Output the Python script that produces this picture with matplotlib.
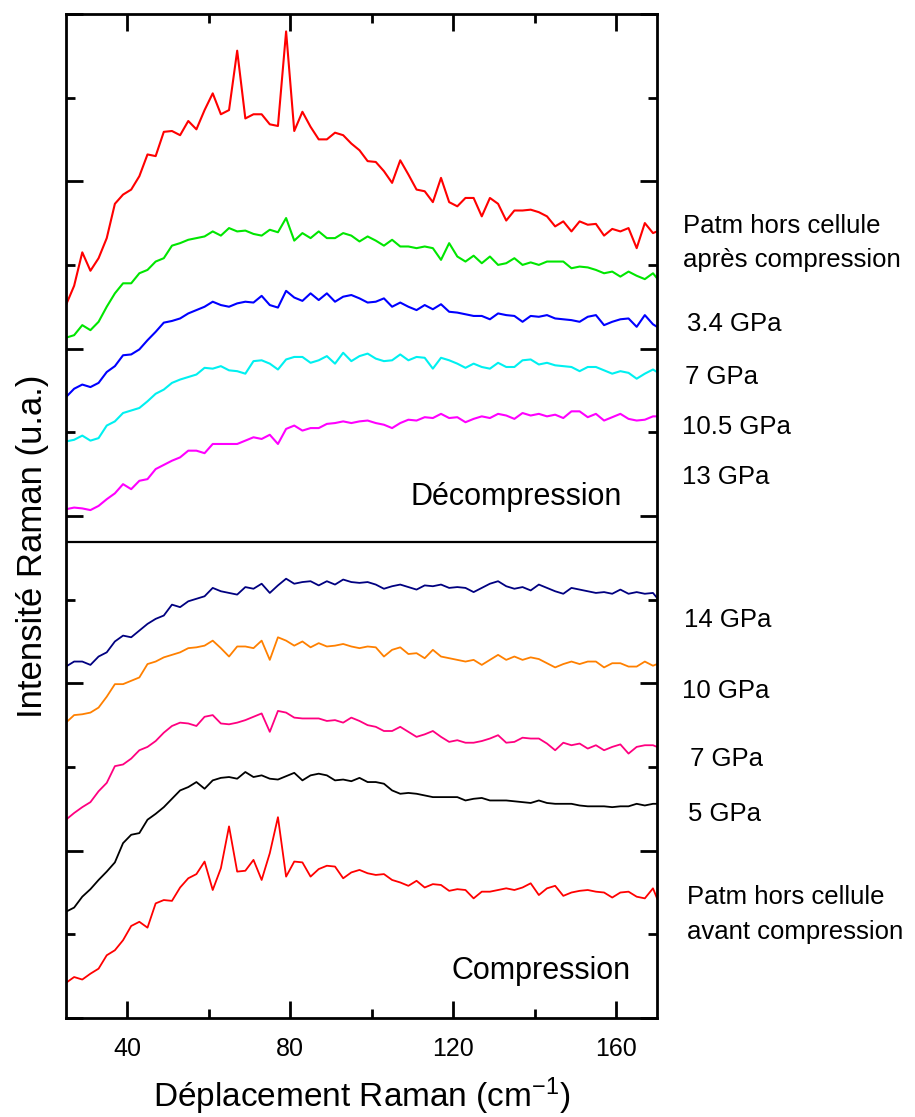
import matplotlib
matplotlib.use("Agg")
import matplotlib.pyplot as plt
from matplotlib.ticker import MultipleLocator, NullFormatter

plt.rcParams['font.family'] = ['Liberation Sans', 'DejaVu Sans']
plt.rcParams['mathtext.fontset'] = 'custom'
plt.rcParams['mathtext.rm'] = 'Liberation Sans'
plt.rcParams['mathtext.it'] = 'Liberation Sans'

##############################
# Data (intensities with offsets, arbitrary units)

shift = list(range(25, 170, 2)) + [170]   # Raman shift, cm-1

patm_apres = [85.2, 87.5, 91.5, 89.3, 90.8, 93.2, 97.3, 98.4, 99.0, 100.6,
              103.2, 103.0, 105.9, 106.0, 105.5, 107.2, 106.2, 108.5, 110.5, 108.0,
              108.5, 115.6, 107.5, 108.0, 108.0, 106.8, 106.6, 117.9, 106.0, 108.3,
              106.5, 105.0, 105.0, 105.8, 105.5, 104.5, 103.7, 102.4, 102.3, 101.2,
              99.8, 102.5, 100.8, 99.0, 98.8, 97.5, 100.4, 97.5, 97.0, 98.0,
              98.0, 95.8, 98.0, 97.3, 95.3, 96.5, 96.5, 96.6, 96.3, 95.8,
              94.6, 95.2, 94.0, 95.2, 94.8, 94.9, 93.5, 94.3, 94.0, 94.4,
              92.0, 95.0, 93.8, 94.0]

dec_3_4 = [81.3, 81.6, 82.8, 82.2, 83.2, 85.0, 86.6, 87.8, 87.8, 89.0,
           89.4, 90.4, 90.8, 92.3, 92.6, 93.0, 93.2, 93.4, 94.0, 93.5,
           94.4, 94.0, 94.1, 93.7, 93.5, 94.2, 93.9, 95.6, 92.9, 93.8,
           93.2, 94.0, 93.2, 93.2, 93.8, 93.5, 92.8, 93.4, 92.9, 92.3,
           93.0, 92.2, 92.2, 92.0, 92.2, 92.0, 90.6, 92.6, 91.0, 90.4,
           91.1, 90.2, 91.0, 90.0, 90.2, 90.8, 90.0, 90.3, 90.0, 90.4,
           90.4, 90.4, 89.6, 89.8, 89.7, 89.4, 89.0, 89.2, 88.6, 89.2,
           88.7, 88.3, 89.0, 88.4]

dec_7 = [74.2, 75.2, 75.7, 75.4, 75.9, 77.2, 77.9, 79.2, 79.3, 79.9,
         81.0, 82.0, 83.1, 83.3, 83.6, 84.2, 84.6, 85.0, 85.6, 85.2,
         85.0, 85.4, 85.6, 85.5, 86.3, 85.2, 84.9, 86.9, 86.1, 85.7,
         86.6, 85.8, 86.6, 85.6, 86.2, 86.4, 86.0, 85.5, 85.6, 86.0,
         85.0, 85.5, 85.0, 84.6, 85.2, 84.7, 85.3, 84.4, 84.3, 84.1,
         83.9, 83.9, 83.5, 84.2, 84.0, 83.9, 83.2, 83.9, 83.8, 84.0,
         83.6, 83.5, 83.4, 83.2, 83.8, 84.0, 82.8, 83.2, 83.5, 83.6,
         82.6, 84.0, 82.9, 82.6]

dec_10_5 = [68.9, 69.1, 69.6, 69.0, 69.3, 70.8, 71.3, 72.3, 72.6, 72.9,
            73.7, 74.6, 75.1, 75.9, 76.3, 76.6, 76.9, 77.7, 77.6, 77.9,
            77.4, 77.3, 77.0, 78.5, 78.6, 78.2, 77.5, 78.7, 79.0, 79.0,
            78.3, 78.6, 79.1, 78.2, 79.5, 78.5, 79.1, 79.4, 78.8, 78.5,
            78.6, 79.3, 78.6, 79.0, 78.9, 77.6, 78.9, 78.6, 78.2, 77.7,
            78.2, 77.8, 77.6, 78.3, 77.8, 77.8, 78.6, 78.7, 78.1, 78.3,
            78.0, 77.9, 77.8, 77.3, 77.8, 77.8, 77.4, 77.0, 77.3, 77.1,
            76.4, 77.0, 77.5, 77.2]

dec_13 = [60.8, 61.0, 60.9, 60.7, 61.2, 62.0, 62.7, 63.8, 63.2, 64.2,
          64.4, 65.6, 66.1, 66.6, 67.0, 67.8, 67.8, 67.5, 68.6, 68.6,
          68.6, 68.6, 69.0, 69.4, 69.2, 69.7, 68.6, 70.4, 70.8, 70.2,
          70.5, 70.5, 71.0, 71.1, 71.3, 71.1, 71.3, 71.4, 71.1, 70.9,
          70.5, 71.1, 71.5, 71.4, 71.8, 71.7, 72.2, 71.7, 71.8, 71.2,
          71.6, 71.9, 71.7, 72.2, 72.0, 71.6, 72.3, 72.0, 72.2, 71.9,
          72.1, 71.7, 72.5, 72.5, 71.8, 72.2, 71.4, 71.8, 72.2, 71.6,
          71.4, 71.5, 71.9, 71.9]

comp_14 = [42.0, 42.6, 42.6, 42.2, 43.2, 43.7, 45.0, 45.7, 45.5, 46.3,
           47.1, 47.7, 48.1, 49.4, 49.1, 49.8, 50.1, 50.4, 51.4, 51.0,
           50.8, 50.6, 51.5, 51.3, 51.9, 50.8, 51.7, 52.5, 51.9, 52.1,
           52.2, 51.7, 52.2, 51.8, 52.4, 52.1, 52.0, 52.1, 51.8, 51.3,
           51.6, 51.8, 51.5, 51.2, 51.7, 51.6, 51.8, 51.4, 51.5, 51.4,
           50.9, 51.4, 51.9, 52.2, 51.6, 51.3, 51.5, 51.1, 51.8, 51.4,
           51.0, 50.7, 51.4, 51.2, 51.0, 50.8, 50.9, 50.7, 51.2, 50.7,
           50.9, 50.7, 50.8, 50.2]

comp_10 = [35.3, 36.2, 36.3, 36.5, 37.1, 38.4, 39.9, 39.9, 40.3, 40.7,
           42.3, 42.6, 43.1, 43.4, 43.7, 44.2, 44.3, 44.5, 45.1, 44.2,
           43.2, 44.4, 44.4, 44.2, 45.1, 42.8, 45.5, 45.1, 44.5, 45.0,
           44.3, 44.8, 44.4, 44.5, 44.7, 44.4, 44.2, 44.4, 44.3, 43.2,
           44.0, 44.3, 43.5, 43.6, 43.0, 44.0, 43.2, 43.0, 42.8, 42.6,
           42.8, 42.2, 42.8, 43.4, 42.8, 43.2, 42.8, 43.1, 42.9, 42.4,
           41.9, 42.3, 42.6, 42.3, 42.6, 42.6, 41.9, 42.4, 42.4, 42.0,
           42.0, 42.6, 42.1, 42.3]

comp_7 = [23.7, 24.5, 25.2, 25.8, 27.1, 28.1, 30.1, 30.3, 31.0, 32.0,
          32.4, 33.1, 34.1, 34.9, 35.3, 35.2, 34.9, 36.0, 36.2, 35.2,
          35.1, 35.3, 35.6, 36.0, 36.4, 34.2, 36.7, 36.5, 35.9, 35.8,
          35.8, 35.8, 35.5, 35.6, 35.3, 35.9, 35.5, 35.0, 34.8, 34.3,
          34.3, 34.8, 34.2, 33.6, 33.9, 34.3, 33.6, 33.0, 33.2, 32.9,
          32.9, 33.1, 33.4, 33.8, 32.9, 33.0, 33.5, 33.4, 33.4, 32.8,
          32.0, 32.9, 32.6, 32.8, 32.2, 32.6, 32.0, 32.4, 32.7, 31.6,
          32.4, 32.6, 32.6, 32.4]

comp_5 = [12.7, 13.2, 14.5, 15.4, 16.5, 17.5, 18.6, 20.9, 21.9, 22.1,
          23.7, 24.4, 25.2, 26.2, 27.2, 27.6, 28.2, 27.4, 28.4, 28.7,
          28.8, 28.6, 29.4, 28.8, 29.0, 28.6, 28.5, 28.9, 29.3, 28.4,
          29.0, 29.2, 29.0, 28.4, 28.5, 28.3, 28.7, 28.2, 28.2, 28.0,
          27.2, 26.8, 26.9, 26.8, 26.6, 26.4, 26.4, 26.4, 26.4, 26.0,
          26.2, 26.3, 26.0, 26.0, 26.0, 25.9, 25.8, 25.7, 26.0, 25.7,
          25.6, 25.6, 25.6, 25.4, 25.3, 25.3, 25.3, 25.2, 25.3, 25.3,
          25.6, 25.4, 25.6, 25.6]

patm_avant = [4.2, 4.9, 4.6, 5.3, 5.9, 7.5, 8.1, 9.3, 11.0, 11.5,
              10.8, 13.7, 14.1, 14.0, 15.6, 16.7, 17.2, 18.7, 15.3, 17.9,
              22.9, 17.5, 17.6, 18.9, 16.5, 19.7, 24.0, 16.9, 18.7, 18.6,
              16.9, 17.8, 18.2, 18.1, 16.7, 17.4, 17.7, 17.3, 17.1, 17.2,
              16.5, 16.2, 15.8, 16.4, 15.6, 16.0, 15.9, 15.2, 15.4, 15.3,
              14.3, 15.1, 15.1, 15.3, 15.5, 15.3, 15.6, 16.1, 14.7, 15.5,
              15.8, 14.6, 15.0, 15.2, 15.3, 15.1, 15.0, 14.4, 15.0, 15.1,
              14.5, 14.3, 15.5, 14.3]

upper_series = [patm_apres, dec_3_4, dec_7, dec_10_5, dec_13]
upper_colors = ['#ff0000', '#00e600', '#0000ff', '#00f0f0', '#ff00ff']
lower_series = [comp_14, comp_10, comp_7, comp_5, patm_avant]
lower_colors = ['#000080', '#ff8000', '#ff0080', '#000000', '#ff0000']

divider = 56.9   # line between the two panels

##############################
# Figure

fig = plt.figure(figsize=(9.15, 11.17), dpi=100)
ax = fig.add_axes([0.0721, 0.0886, 0.646, 0.899])

for s, c in zip(upper_series, upper_colors):
    ax.plot(shift, s, color=c, lw=1.5)
for s, c in zip(lower_series, lower_colors):
    ax.plot(shift, s, color=c, lw=1.3)

ax.axhline(divider, color='black', lw=1.6)

ax.set_xlim(25, 170)
ax.set_ylim(0, 120)

ax.xaxis.set_major_locator(MultipleLocator(40))
ax.xaxis.set_minor_locator(MultipleLocator(20))
ax.yaxis.set_major_locator(MultipleLocator(20))
ax.yaxis.set_minor_locator(MultipleLocator(10))
ax.yaxis.set_major_formatter(NullFormatter())

ax.tick_params(which='both', direction='in', top=True, right=True, width=2)
ax.tick_params(which='major', length=12)
ax.tick_params(which='minor', length=6.5)
ax.tick_params(axis='x', labelsize=18, pad=14)
for sp in ax.spines.values():
    sp.set_linewidth(2)

ax.set_xlabel('Déplacement Raman (cm$^{-1}$)', fontsize=24)
ax.xaxis.set_label_coords(0.5, -0.057)
ax.set_ylabel('Intensité Raman (u.a.)', fontsize=25)
ax.yaxis.set_label_coords(-0.028, 0.47)

ax.text(161.4, 61.3, 'Décompression', fontsize=22, ha='right', va='baseline')
ax.text(163.4, 4.7, 'Compression', fontsize=22, ha='right', va='baseline')

# pressure labels to the right of the frame
labels = [(176.3, 93.8, 'Patm hors cellule'),
          (176.3, 89.7, 'après compression'),
          (177.3, 82.1, '3.4 GPa'),
          (176.9, 75.8, '7 GPa'),
          (176.1, 69.8, '10.5 GPa'),
          (176.1, 63.8, '13 GPa'),
          (176.5, 46.7, '14 GPa'),
          (176.1, 38.2, '10 GPa'),
          (178.1, 30.1, '7 GPa'),
          (177.7, 23.5, '5 GPa'),
          (177.3, 13.6, 'Patm hors cellule'),
          (177.3, 9.5, 'avant compression')]
for x, y, t in labels:
    ax.text(x, y, t, fontsize=18.5, ha='left', va='baseline', clip_on=False)

fig.savefig('out.png', dpi=100)
